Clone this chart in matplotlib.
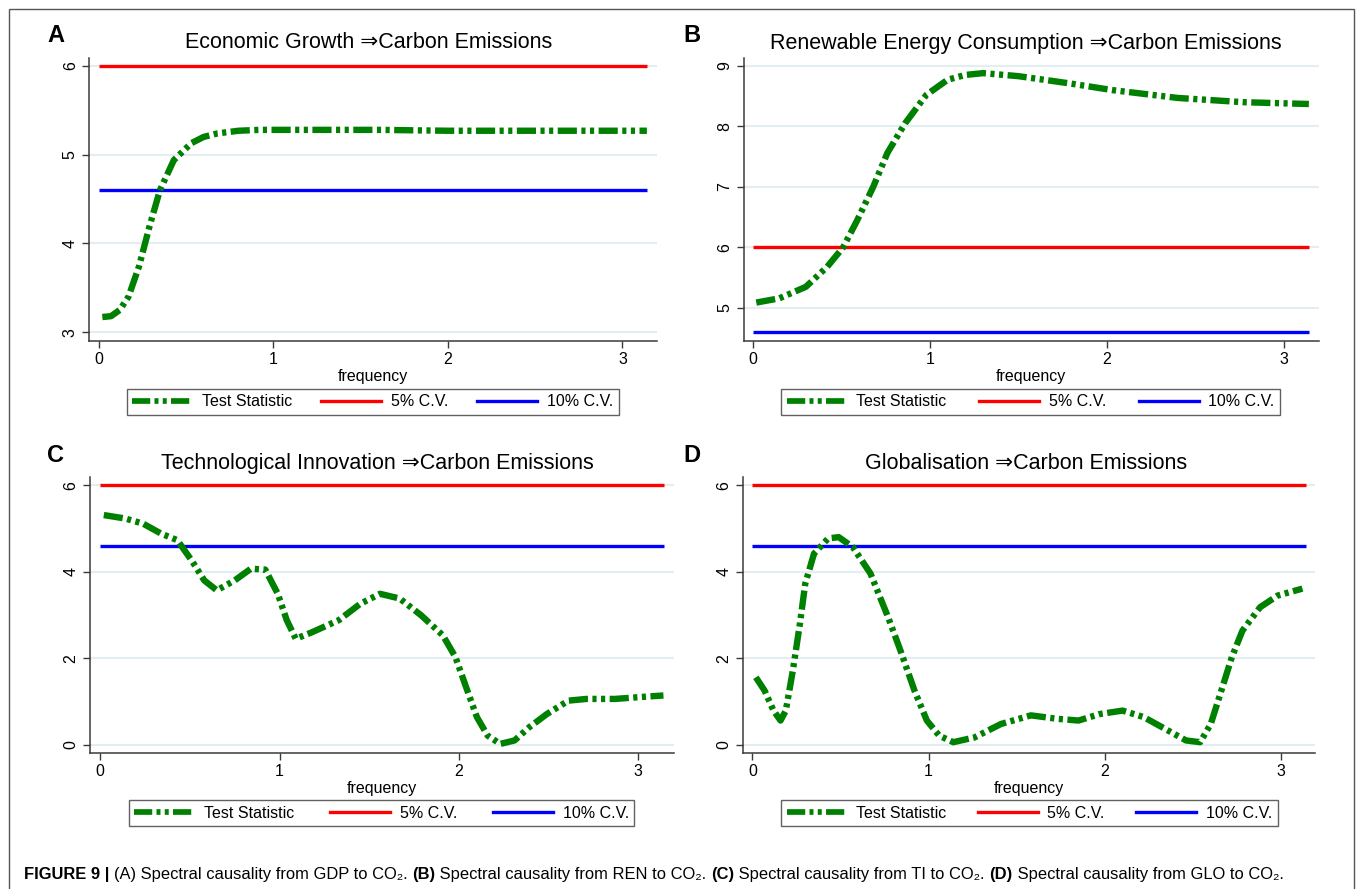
import numpy as np
import matplotlib
matplotlib.use('Agg')
import matplotlib.pyplot as plt
from matplotlib.lines import Line2D

# Spectral causality test statistics
freq_a = [0.02, 0.07, 0.12, 0.17, 0.23, 0.29, 0.35, 0.43, 0.53, 0.60, 0.68, 0.80, 0.92,
          1.20, 1.60, 2.00, 2.50, 3.14]
stat_a = [3.17, 3.18, 3.25, 3.40, 3.74, 4.19, 4.60, 4.94, 5.13, 5.20, 5.24, 5.27, 5.28,
          5.28, 5.28, 5.27, 5.27, 5.27]

freq_b = [0.02, 0.15, 0.30, 0.42, 0.51, 0.59, 0.68, 0.76, 0.86, 0.98, 1.10, 1.20, 1.30,
          1.50, 1.79, 2.03, 2.40, 2.77, 3.14]
stat_b = [5.09, 5.16, 5.35, 5.68, 6.00, 6.45, 7.00, 7.56, 8.05, 8.52, 8.77, 8.85, 8.88,
          8.83, 8.71, 8.60, 8.47, 8.40, 8.37]

freq_c = [0.02, 0.14, 0.24, 0.34, 0.43, 0.51, 0.58, 0.65, 0.75, 0.84, 0.92, 0.99, 1.04,
          1.09, 1.18, 1.33, 1.45, 1.56, 1.67, 1.79, 1.91, 1.98, 2.04, 2.10, 2.16, 2.23,
          2.31, 2.39, 2.49, 2.61, 2.71, 2.87, 3.00, 3.14]
stat_c = [5.31, 5.23, 5.11, 4.88, 4.73, 4.26, 3.80, 3.57, 3.80, 4.07, 4.05, 3.49, 2.88,
          2.45, 2.60, 2.88, 3.26, 3.49, 3.38, 2.99, 2.53, 2.03, 1.33, 0.64, 0.21, 0.02,
          0.10, 0.40, 0.71, 1.02, 1.06, 1.06, 1.10, 1.14]

freq_d = [0.02, 0.07, 0.12, 0.16, 0.19, 0.23, 0.27, 0.30, 0.35, 0.43, 0.49, 0.57, 0.67,
          0.77, 0.84, 0.92, 0.99, 1.06, 1.14, 1.26, 1.41, 1.58, 1.73, 1.85, 1.97, 2.10,
          2.22, 2.34, 2.46, 2.54, 2.60, 2.66, 2.72, 2.78, 2.88, 2.98, 3.12]
stat_d = [1.56, 1.25, 0.79, 0.56, 0.79, 1.72, 2.80, 3.72, 4.42, 4.77, 4.80, 4.57, 3.96,
          2.95, 2.18, 1.25, 0.56, 0.21, 0.06, 0.17, 0.48, 0.68, 0.60, 0.56, 0.71, 0.79,
          0.64, 0.37, 0.10, 0.06, 0.48, 1.25, 2.03, 2.64, 3.18, 3.45, 3.61]

cv_5 = 6.0
cv_10 = 4.6
freq_max = np.pi

letters = ['A', 'B', 'C', 'D']
titles = ['Economic Growth \u21d2Carbon Emissions',
          'Renewable Energy Consumption \u21d2Carbon Emissions',
          'Technological Innovation \u21d2Carbon Emissions',
          'Globalisation \u21d2Carbon Emissions']
series = [(freq_a, stat_a), (freq_b, stat_b), (freq_c, stat_c), (freq_d, stat_d)]
yticks = [[3, 4, 5, 6], [5, 6, 7, 8, 9], [0, 2, 4, 6], [0, 2, 4, 6]]
legend_labels = ['Test Statistic', '5% C.V.', '10% C.V.']

# layout, in pixels of the 1357x889 image (left, right, top, bottom)
W, H = 1357, 889
ax_px = [(88.9, 657, 58, 341), (743.7, 1318.8, 58, 341),
         (89.8, 673.5, 477, 753), (742.8, 1315.3, 477, 753)]
xlims = [(-0.057, 3.198), (-0.051, 3.196), (-0.058, 3.196), (-0.054, 3.193)]
ylims = [(2.90, 6.09), (4.455, 9.13), (-0.19, 6.19), (-0.19, 6.19)]
leg_px = [(126.6, 618.8, 388, 416), (781, 1280, 388, 416),
          (128.8, 634.4, 799, 827), (781, 1277.7, 799, 827)]
title_px = [(368.6, 43), (1026, 43), (377, 463), (1026, 463)]
letter_px = [(56, 36), (692, 36), (56, 455), (692, 455)]

GREEN = '#008000'
RED = '#ff0000'
BLUE = '#0000ff'
GRID = '#e4eef2'
AXC = '#3a3a3a'
TS_DASH = (3.0, 0.7, 0.65, 0.7, 0.65, 0.7)

plt.rcParams['font.family'] = ['Liberation Sans', 'DejaVu Sans']

fig = plt.figure(figsize=(W / 100, H / 100), dpi=100)
fig.patch.set_facecolor('white')

# outer frame
frame = plt.Rectangle((9 / W, -0.05), (1354 - 9) / W, 1.05 - 9 / H, transform=fig.transFigure,
                      fill=False, edgecolor='#555555', linewidth=1.0)
fig.patches.append(frame)

for i in range(4):
    l, r, t, b = ax_px[i]
    ax = fig.add_axes([l / W, 1 - b / H, (r - l) / W, (b - t) / H])
    f, s = series[i]
    ax.set_xlim(*xlims[i])
    ax.set_ylim(*ylims[i])
    for yt in yticks[i]:
        ax.axhline(yt, color=GRID, linewidth=1.6, zorder=0)
    ax.plot([0, freq_max], [cv_5, cv_5], color=RED, linewidth=2.4, solid_capstyle='butt', zorder=2)
    ax.plot([0, freq_max], [cv_10, cv_10], color=BLUE, linewidth=2.4, solid_capstyle='butt', zorder=2)
    ax.plot(f, s, color=GREEN, linewidth=4.6, dashes=TS_DASH, dash_capstyle='butt',
            dash_joinstyle='round', zorder=3)

    ax.set_xticks([0, 1, 2, 3])
    ax.set_yticks(yticks[i])
    ax.tick_params(axis='both', direction='out', length=5, width=1.0, color=AXC,
                   labelsize=11.5, labelcolor='black', pad=3)
    for lab in ax.get_yticklabels():
        lab.set_rotation(90)
        lab.set_va('center')
    for side in ['top', 'right']:
        ax.spines[side].set_visible(False)
    for side in ['left', 'bottom']:
        ax.spines[side].set_color(AXC)
        ax.spines[side].set_linewidth(1.1)
    ax.set_xlabel('frequency', fontsize=11.5, labelpad=1)

    # legend below the axes
    handles = [Line2D([], [], color=GREEN, linewidth=4.1, dashes=(3.2, 0.75, 0.7, 0.75, 0.7, 0.75),
                      dash_capstyle='butt'),
               Line2D([], [], color=RED, linewidth=2.4),
               Line2D([], [], color=BLUE, linewidth=2.4)]
    ll, lr, lt, lb = leg_px[i]
    leg = fig.legend(handles, legend_labels, ncol=3, loc='center',
                     bbox_to_anchor=(ll / W, 1 - lb / H, (lr - ll) / W, (lb - lt) / H),
                     mode='expand', borderaxespad=0, fontsize=11.5, handlelength=3.75,
                     handletextpad=0.6, columnspacing=1.5, borderpad=0.35,
                     frameon=True, fancybox=False)
    leg.get_frame().set_edgecolor(AXC)
    leg.get_frame().set_linewidth(1.0)

    tx, ty = title_px[i]
    fig.text(tx / W, 1 - ty / H, titles[i], fontsize=15.5, ha='center', va='center')
    lx, ly = letter_px[i]
    fig.text(lx / W, 1 - ly / H, letters[i], fontsize=17, fontweight='bold',
             ha='center', va='center')

# caption with mixed weights, fitted to the width it takes in the figure
caption_runs = [('FIGURE 9 | ', 'bold'), ('(A) Spectral causality from GDP to CO\u2082. ', 'normal'),
                ('(B)', 'bold'), (' Spectral causality from REN to CO\u2082. ', 'normal'),
                ('(C)', 'bold'), (' Spectral causality from TI to CO\u2082. ', 'normal'),
                ('(D)', 'bold'), (' Spectral causality from GLO to CO\u2082.', 'normal')]
caption_font = ['Liberation Sans Narrow', 'Liberation Sans', 'DejaVu Sans']


def draw_caption(size, x0, y0):
    renderer = fig.canvas.get_renderer()
    x = x0
    objs = []
    for txt, wt in caption_runs:
        t = fig.text(x / W, 1 - y0 / H, txt, fontsize=size, fontweight=wt,
                     family=caption_font, ha='left', va='center')
        objs.append(t)
        x = t.get_window_extent(renderer).x1
    return objs, x - x0


objs, width = draw_caption(12, 24, 875)
for o in objs:
    o.remove()
draw_caption(12 * (1279 - 24) / width, 24, 875)

fig.savefig('out.png', dpi=100, facecolor='white')
